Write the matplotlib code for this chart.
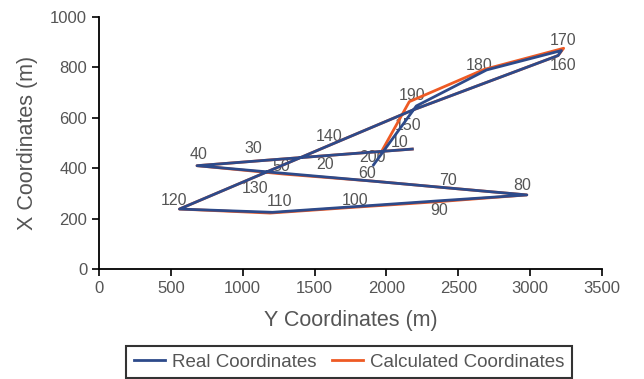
import matplotlib.pyplot as plt

# === Traverse stations (Y = easting, X = northing) ===
stations = [10, 20, 30, 40, 50, 60, 70, 80, 90, 100,
            110, 120, 130, 140, 150, 160, 170, 180, 190, 200]

real_y = [2180, 1650, 1150, 682, 1301, 1900, 2463, 2977, 2400, 1816,
          1207, 560, 1051, 1628, 2184, 3194, 3218, 2697, 2208, 1910]
real_x = [476, 453, 431, 410, 379, 349, 320, 294, 272, 249,
          225, 238, 357, 497, 631, 847, 867, 790, 647, 413]

calc_y = [2180, 1650, 1150, 682, 1301, 1900, 2463, 2977, 2380, 1800,
          1190, 560, 1051, 1628, 2184, 3194, 3233, 2680, 2159, 1960]
calc_x = [476, 453, 431, 410, 376, 349, 320, 294, 268, 246,
          222, 238, 357, 497, 631, 847, 876, 792, 664, 460]

# label offsets in pixels (dx, dy)
label_dx = [-13, -11, -11, 2, -5, -5, -5, -5, -5, -5,
            7, -5, 5, -4, -5, 5, 2, -7, -4, -1]
label_dy = [7, -10, 12, 11, 7, 8, 8, 9, -10, 6,
            11, 9, -9, 7, -15, -10, 10, 4, 10, 7]

blue = '#2D4A8A'
orange = '#EE5A24'
grey = '#555555'

plt.rcParams['font.family'] = ['Liberation Sans', 'DejaVu Sans']

fig = plt.figure(figsize=(6.44, 3.79), dpi=100)
ax = fig.add_axes([0.1537, 0.2902, 0.7811, 0.6649])

ax.plot(calc_y, calc_x, color=orange, lw=2.0, label='Calculated Coordinates', zorder=2)
ax.plot(real_y, real_x, color=blue, lw=2.0, label='Real Coordinates', zorder=3)

for s, yy, xx, dx, dy in zip(stations, real_y, real_x, label_dx, label_dy):
    ax.annotate(str(s), (yy, xx), xytext=(dx, dy), textcoords='offset pixels',
                ha='center', va='center', fontsize=11.5, color=grey, zorder=1)

ax.set_xlim(0, 3500)
ax.set_ylim(0, 1000)
ax.set_xticks(range(0, 3501, 500))
ax.set_yticks(range(0, 1001, 200))
ax.tick_params(labelsize=12, colors=grey, length=5, width=1.2, direction='out')
ax.tick_params(color='black')
for side in ['top', 'right']:
    ax.spines[side].set_visible(False)
for side in ['left', 'bottom']:
    ax.spines[side].set_linewidth(1.3)

ax.set_xlabel('Y Coordinates (m)', fontsize=15.5, color=grey, labelpad=10)
ax.set_ylabel('X Coordinates (m)', fontsize=15.5, color=grey, labelpad=9)

handles, labels = ax.get_legend_handles_labels()
leg = fig.legend(handles[::-1], labels[::-1], loc='upper center', ncol=2,
                 bbox_to_anchor=(0.542, 0.0871), fontsize=13.5, frameon=True,
                 fancybox=False, handlelength=1.65, handletextpad=0.4,
                 columnspacing=0.8, borderpad=0.4, borderaxespad=0)
leg.get_frame().set_edgecolor('black')
leg.get_frame().set_linewidth(1.5)
for t in leg.get_texts():
    t.set_color(grey)

fig.savefig('out.png', dpi=100)
